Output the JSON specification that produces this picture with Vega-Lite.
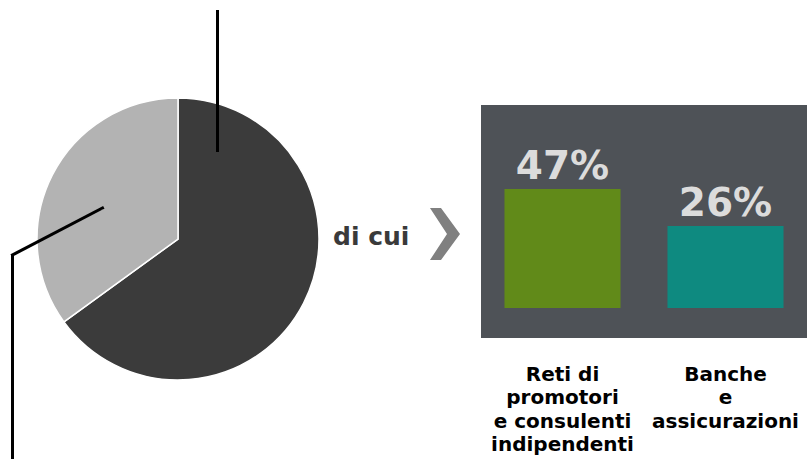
{
  "$schema": "https://vega.github.io/schema/vega-lite/v6.json",
  "width": 807,
  "height": 459,
  "autosize": "none",
  "padding": 0,
  "background": "white",
  "config": {"view": {"stroke": null}},
  "datasets": {
    "pie": [
      {"segmento": "Quota principale", "quota": 0.65},
      {"segmento": "Altra quota", "quota": 0.35}
    ],
    "canali": [
      {"canale": "Reti di\npromotori\ne consulenti\nindipendenti", "quota": 0.47},
      {"canale": "Banche\ne\nassicurazioni", "quota": 0.26}
    ]
  },
  "layer": [
    {
      "data": {"values": [{}]},
      "layer": [
        {
          "mark": {"type": "rect", "color": "#4e5257"},
          "encoding": {
            "x": {"datum": 481, "type": "quantitative", "scale": {"domain": [0, 807], "nice": false, "zero": false}, "axis": null},
            "x2": {"datum": 807},
            "y": {"datum": 105, "type": "quantitative", "scale": {"domain": [459, 0], "nice": false, "zero": false}, "axis": null},
            "y2": {"datum": 338}
          }
        },
        {
          "data": {"name": "pie"},
          "mark": {"type": "arc", "outerRadius": 141, "stroke": "white", "strokeWidth": 1.5},
          "encoding": {
            "theta": {"field": "quota", "type": "quantitative", "stack": true},
            "order": {"field": "quota", "sort": "descending"},
            "color": {"field": "segmento", "type": "nominal", "scale": {"domain": ["Quota principale", "Altra quota"], "range": ["#3b3b3b", "#b3b3b3"]}, "legend": null},
            "x": {"datum": 178, "type": "quantitative"},
            "y": {"datum": 239, "type": "quantitative"}
          }
        },
        {
          "mark": {"type": "rule", "color": "black", "strokeWidth": 3},
          "encoding": {
            "x": {"datum": 217.5, "type": "quantitative"},
            "y": {"datum": 10, "type": "quantitative"},
            "y2": {"datum": 152}
          }
        },
        {
          "mark": {"type": "rule", "color": "black", "strokeWidth": 3, "strokeCap": "square"},
          "encoding": {
            "x": {"datum": 102.5, "type": "quantitative"},
            "y": {"datum": 208, "type": "quantitative"},
            "x2": {"datum": 12.5},
            "y2": {"datum": 255}
          }
        },
        {
          "mark": {"type": "rule", "color": "black", "strokeWidth": 3},
          "encoding": {
            "x": {"datum": 12.5, "type": "quantitative"},
            "y": {"datum": 255, "type": "quantitative"},
            "y2": {"datum": 459}
          }
        },
        {
          "mark": {"type": "text", "text": "di cui", "font": "DejaVu Sans", "fontWeight": "bold", "fontSize": 25, "color": "#3a3a3a", "align": "left", "baseline": "alphabetic"},
          "encoding": {
            "x": {"datum": 333, "type": "quantitative"},
            "y": {"datum": 245, "type": "quantitative"}
          }
        },
        {
          "mark": {"type": "point", "filled": true, "color": "#808080", "opacity": 1, "strokeWidth": 0, "size": 2704, "shape": "M-0.577,-1 L-0.154,-1 L0.577,0 L-0.154,1 L-0.577,1 L0.077,0 Z"},
          "encoding": {
            "x": {"datum": 445, "type": "quantitative"},
            "y": {"datum": 234, "type": "quantitative"}
          }
        }
      ]
    },
    {
      "data": {"name": "canali"},
      "encoding": {
        "x": {
          "field": "canale", "type": "nominal", "sort": null,
          "scale": {"range": [481, 807], "paddingInner": 0.288, "paddingOuter": 0.144},
          "axis": {
            "orient": "bottom", "offset": -79, "domain": false, "ticks": false, "title": null,
            "labelAngle": 0, "labelPadding": 0, "labelBaseline": "alphabetic",
            "labelExpr": "split(datum.label, '\\n')",
            "labelFont": "DejaVu Sans", "labelFontWeight": "bold", "labelFontSize": 20,
            "labelColor": "black", "labelLineHeight": 23.5, "labelLimit": 0, "grid": false
          }
        },
        "y": {
          "field": "quota", "type": "quantitative",
          "scale": {"type": "pow", "exponent": 0.63, "domain": [0, 0.47], "range": [308, 189]},
          "axis": null
        }
      },
      "layer": [
        {
          "mark": {"type": "bar"},
          "encoding": {
            "color": {"field": "canale", "type": "nominal", "sort": null, "scale": {"range": ["#618a19", "#0e8a80"]}, "legend": null}
          }
        },
        {
          "mark": {"type": "text", "font": "DejaVu Sans", "fontWeight": "bold", "fontSize": 39, "color": "#dcdcdc", "baseline": "alphabetic", "dy": -10.5},
          "encoding": {
            "text": {"field": "quota", "type": "quantitative", "format": ".0%"}
          }
        }
      ]
    }
  ],
  "resolve": {"scale": {"x": "independent", "y": "independent", "color": "independent"}, "axis": {"x": "independent", "y": "independent"}}
}
